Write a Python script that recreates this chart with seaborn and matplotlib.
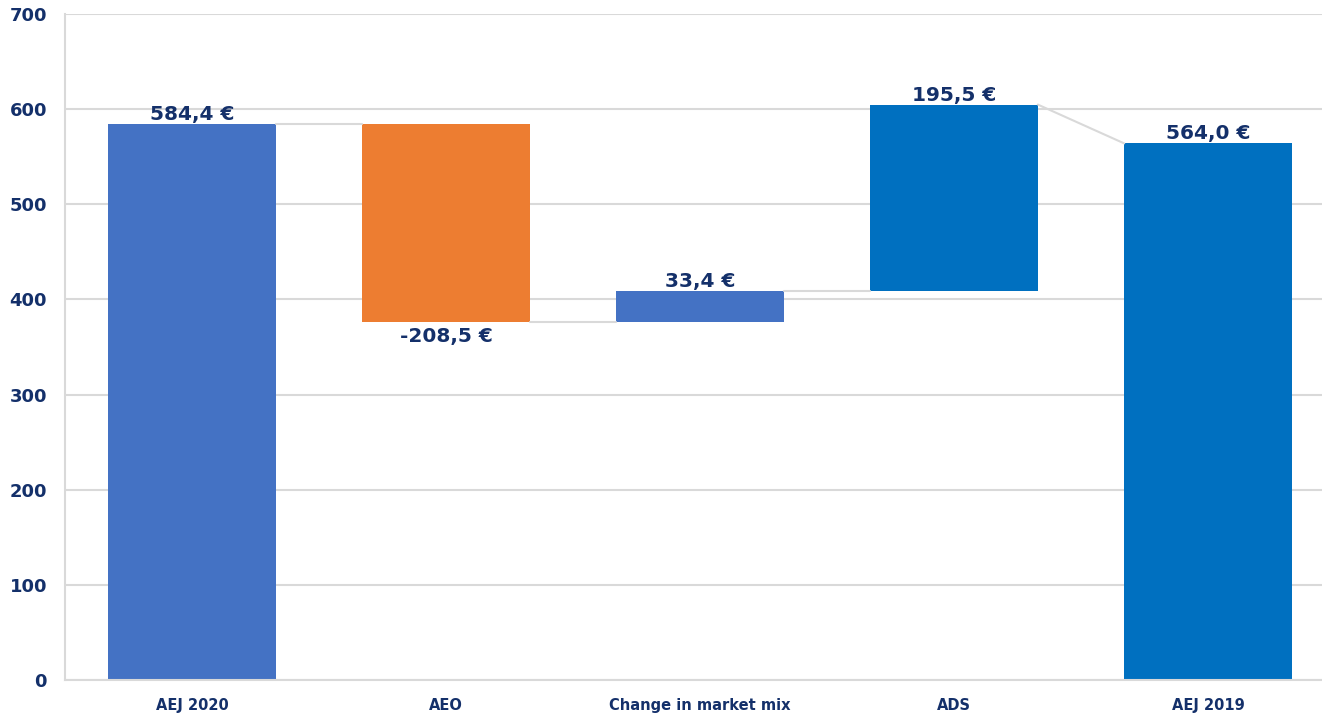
import matplotlib
matplotlib.use("Agg")
import matplotlib.pyplot as plt
import seaborn as sns
import numpy as np
import pandas as pd

categories = ["AEJ 2020", "AEO", "Change in market mix", "ADS", "AEJ 2019"]
values = [584.4, -208.5, 33.4, 195.5, 564.0]
is_total = [True, False, False, False, True]
labels = ["584,4 €", "-208,5 €", "33,4 €", "195,5 €", "564,0 €"]
colors = ["#4472C4", "#ED7D31", "#4472C4", "#0070C0", "#0070C0"]

# waterfall geometry from the data
bottoms, heights, levels = [], [], []
running = 0.0
for v, t in zip(values, is_total):
    if t:
        bottoms.append(0.0)
        heights.append(v)
        running = v
    else:
        if v >= 0:
            bottoms.append(running)
            heights.append(v)
        else:
            bottoms.append(running + v)
            heights.append(-v)
        running += v
    levels.append(running)

df = pd.DataFrame({"cat": categories, "h": heights})

sns.set_theme(style="white")
plt.rcParams['font.family'] = ['DejaVu Sans']
navy = "#14306A"
grid_c = "#D9D9D9"

fig = plt.figure(figsize=(13.22, 7.18), dpi=100)
ax = fig.add_axes([65/1322, 38/718, 1270/1322, 666/718])

bw = 0.66
sns.barplot(data=df, x="cat", y="h", color=colors[0], bottom=bottoms, width=bw,
            ax=ax, saturation=1, edgecolor="none", order=categories)
for p, c in zip(ax.patches, colors):
    p.set_facecolor(c)

ax.set_ylim(0, 700)
ax.set_xlim(-0.5, 4.5)
ax.set_yticks(np.arange(0, 701, 100))
ax.yaxis.grid(True, color=grid_c, linewidth=1.5)
ax.set_axisbelow(True)
for s in ["top", "right"]:
    ax.spines[s].set_visible(False)
for s in ["left", "bottom"]:
    ax.spines[s].set_color(grid_c)
    ax.spines[s].set_linewidth(1.5)
ax.set_xlabel("")
ax.set_ylabel("")
ax.tick_params(axis="both", length=0)
ax.tick_params(axis="y", pad=13)
ax.tick_params(axis="x", pad=13)
for t in ax.get_yticklabels():
    t.set_fontweight("bold"); t.set_color(navy); t.set_fontsize(13)
ax.set_xticks(range(len(categories)))
ax.set_xticklabels(categories, fontsize=10.5, fontweight="bold", color=navy,
                   family=["Liberation Sans Narrow", "DejaVu Sans"])

# connectors
for i in range(len(categories) - 1):
    x0 = i + bw / 2
    x1 = i + 1 - bw / 2
    y0 = levels[i]
    y1 = values[i + 1] if is_total[i + 1] else levels[i]
    ax.plot([x0, x1], [y0, y1], color=grid_c, linewidth=1.5, zorder=1)

# value labels
tops = [b + h for b, h in zip(bottoms, heights)]
for i, (v, lab) in enumerate(zip(values, labels)):
    if v >= 0:
        ax.annotate(lab, (i, tops[i]), xytext=(0, 0), textcoords="offset points",
                    ha="center", va="bottom", fontsize=14.5, fontweight="bold", color=navy)
    else:
        ax.annotate(lab, (i, bottoms[i]), xytext=(0, -3), textcoords="offset points",
                    ha="center", va="top", fontsize=14.5, fontweight="bold", color=navy)

fig.savefig("out.png", dpi=100)
